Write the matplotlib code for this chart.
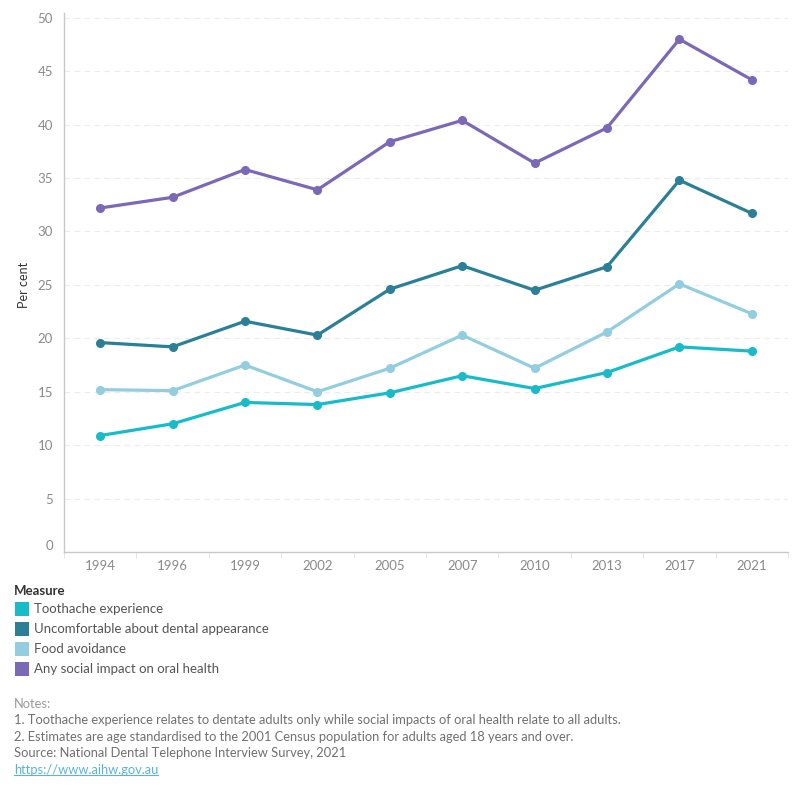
import numpy as np
import matplotlib.pyplot as plt
from matplotlib.patches import Rectangle

plt.rcParams['font.family'] = ['Lato', 'DejaVu Sans']

years = ['1994', '1996', '1999', '2002', '2005', '2007', '2010', '2013', '2017', '2021']

toothache = [10.9, 12.0, 14.0, 13.8, 14.9, 16.5, 15.3, 16.8, 19.2, 18.8]
uncomfortable = [19.6, 19.2, 21.6, 20.3, 24.6, 26.8, 24.5, 26.7, 34.8, 31.7]
food_avoid = [15.2, 15.1, 17.5, 15.0, 17.2, 20.3, 17.2, 20.6, 25.1, 22.3]
any_social = [32.2, 33.2, 35.8, 33.9, 38.4, 40.4, 36.4, 39.7, 48.0, 44.2]

series_names = ['Toothache experience', 'Uncomfortable about dental appearance',
                'Food avoidance', 'Any social impact on oral health']
series_vals = [toothache, uncomfortable, food_avoid, any_social]
colors = ['#17bcc8', '#2b7f96', '#93cde0', '#7b68b6']

fig = plt.figure(figsize=(8, 8), dpi=100)
ax = fig.add_axes([0.08, 0.31, 0.905, 0.674])

x = np.arange(len(years))
for name, vals, c in zip(series_names, series_vals, colors):
    ax.plot(x, vals, color=c, lw=2.3, marker='o', ms=5.5, solid_joinstyle='round', zorder=3)

ax.set_xlim(-0.5, len(years) - 0.5)
ax.set_ylim(0, 50.47)
ax.set_yticks(np.arange(0, 51, 5))
ax.set_xticks(x)
ax.set_xticklabels(years)
ax.set_xticks(np.arange(-0.5, len(years), 1), minor=True)

for sp in ['top', 'right']:
    ax.spines[sp].set_visible(False)
for sp in ['left', 'bottom']:
    ax.spines[sp].set_color('#c8c8c8')
    ax.spines[sp].set_linewidth(1)

ax.yaxis.grid(True, color='#ececec', ls=(0, (5, 4)), lw=0.8)
ax.set_axisbelow(True)
ax.tick_params(axis='y', length=0, labelsize=9.5, labelcolor='#8a8a8a', pad=8)
ax.tick_params(axis='x', which='major', length=0, labelsize=9.5, labelcolor='#8a8a8a', pad=6)
ax.tick_params(axis='x', which='minor', length=4, color='#e0e0e0')
lbl0 = ax.get_yticklabels()[0]
lbl0.set_verticalalignment('bottom')

ax.set_ylabel('Per cent', fontsize=9, color='#333333')
ax.yaxis.set_label_coords(-0.047, 0.495)

# legend
fig.text(14 / 800, 1 - 591 / 800, 'Measure', fontsize=9.5, color='#333333',
         fontweight='bold', va='center', ha='left')
for i, (name, c) in enumerate(zip(series_names, colors)):
    yc = 609 + 20 * i
    fig.patches.append(Rectangle((15 / 800, 1 - (yc + 7) / 800), 14 / 800, 14 / 800,
                                 transform=fig.transFigure, facecolor=c, edgecolor='none'))
    fig.text(34 / 800, 1 - yc / 800, name, fontsize=9.5, color='#555555', va='center', ha='left')

notes = ['Notes:',
         '1. Toothache experience relates to dentate adults only while social impacts of oral health relate to all adults.',
         '2. Estimates are age standardised to the 2001 Census population for adults aged 18 years and over.',
         'Source: National Dental Telephone Interview Survey, 2021']
note_y = [704, 720, 737, 753]
for t, yy in zip(notes, note_y):
    col = '#9a9a9a' if t == 'Notes:' else '#707070'
    fig.text(14 / 800, 1 - yy / 800, t, fontsize=9.25, color=col, va='center', ha='left')
link = fig.text(14 / 800, 1 - 770 / 800, 'https://www.aihw.gov.au', fontsize=9.25,
                color='#5ab4d6', va='center', ha='left')
fig.canvas.draw()
bb = link.get_window_extent().transformed(fig.transFigure.inverted())
fig.add_artist(plt.Line2D([bb.x0, bb.x1], [bb.y0 + 0.001, bb.y0 + 0.001],
                          color='#5ab4d6', lw=0.8, transform=fig.transFigure))

fig.savefig('out.png', dpi=100, facecolor='white')
